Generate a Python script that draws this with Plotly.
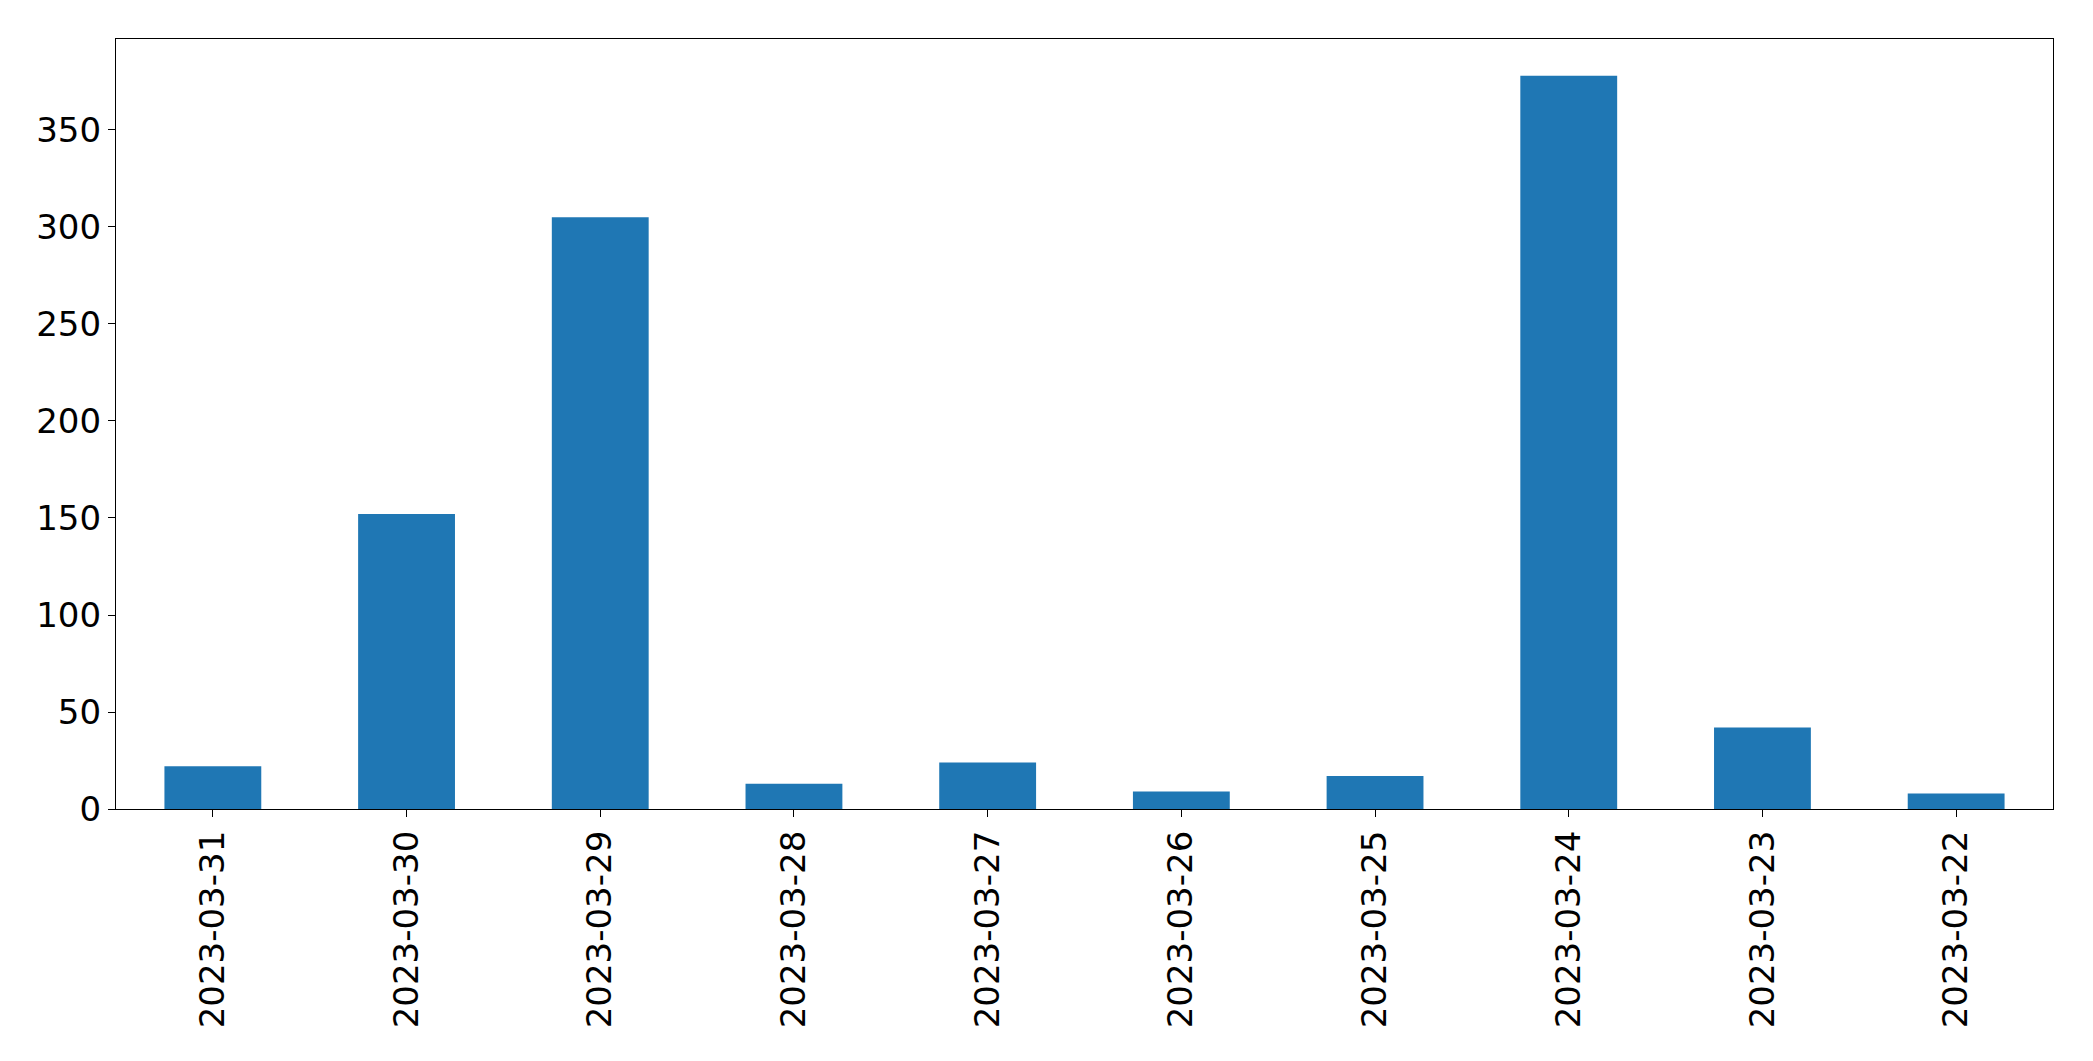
import plotly.graph_objects as go

dates = ["2023-03-31", "2023-03-30", "2023-03-29", "2023-03-28", "2023-03-27",
         "2023-03-26", "2023-03-25", "2023-03-24", "2023-03-23", "2023-03-22"]
counts = [22, 152, 305, 13, 24, 9, 17, 378, 42, 8]
y_ticks = [0, 50, 100, 150, 200, 250, 300, 350]

fig = go.Figure(go.Bar(x=dates, y=counts, width=0.5, marker=dict(color="#1f77b4", line=dict(width=0))))

font = dict(family="DejaVu Sans", size=34, color="black")
fig.update_layout(
    width=2093, height=1061,
    margin=dict(l=108, r=48, t=31, b=260),
    paper_bgcolor="white", plot_bgcolor="white",
    showlegend=False,
    font=font,
)
fig.update_xaxes(
    type="category", range=[-0.5, len(dates) - 0.5],
    tickangle=-90, ticks="outside", ticklen=7, tickwidth=1.3, tickcolor="black",
    showline=True, linecolor="black", linewidth=1.3, mirror=True,
    showgrid=False, zeroline=False, tickfont=font,
)
fig.update_yaxes(
    range=[0, max(counts) * 1.05], tickvals=y_ticks,
    ticks="outside", ticklen=7, tickwidth=1.3, tickcolor="black",
    showline=True, linecolor="black", linewidth=1.3, mirror=True,
    showgrid=False, zeroline=False, tickfont=font,
)
fig.write_html("out.html")
